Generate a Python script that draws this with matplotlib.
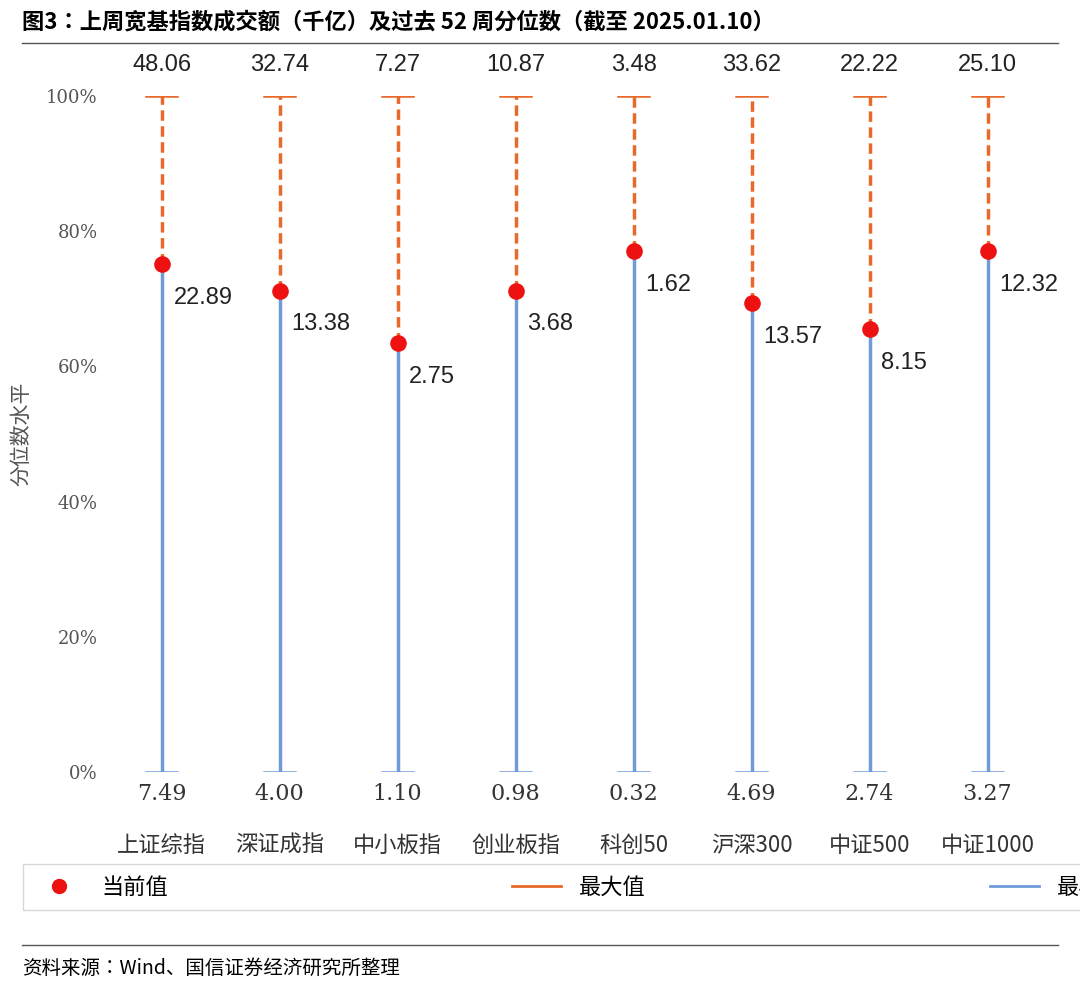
import matplotlib.pyplot as plt
from matplotlib import font_manager
from matplotlib.lines import Line2D

# pick whatever CJK family the font manager actually knows
cjk = [f.name for f in font_manager.fontManager.ttflist if 'CJK' in f.name]
cjk_name = 'Noto Sans CJK SC' if 'Noto Sans CJK SC' in cjk else (cjk[0] if cjk else 'DejaVu Sans')
plt.rcParams['font.family'] = 'sans-serif'
plt.rcParams['font.sans-serif'] = [cjk_name, 'DejaVu Sans']
plt.rcParams['axes.unicode_minus'] = False

names = ['上证综指', '深证成指', '中小板指', '创业板指', '科创50', '沪深300', '中证500', '中证1000']
pct_now = [75.1, 71.2, 63.5, 71.2, 77.1, 69.4, 65.5, 77.1]
val_now = ['22.89', '13.38', '2.75', '3.68', '1.62', '13.57', '8.15', '12.32']
val_max = ['48.06', '32.74', '7.27', '10.87', '3.48', '33.62', '22.22', '25.10']
val_min = ['7.49', '4.00', '1.10', '0.98', '0.32', '4.69', '2.74', '3.27']

blue = '#6f9bd8'
orange = '#e8692a'
red = '#ee1111'

fig = plt.figure(figsize=(10.8, 9.93), dpi=100)
ax = fig.add_axes([0.095, 1 - 772 / 993, 0.874, (772 - 96) / 993])
x = list(range(len(names)))
for i in x:
    ax.plot([i, i], [0, pct_now[i]], color=blue, lw=2.5, zorder=1)
    ax.plot([i, i], [pct_now[i], 100], color=orange, lw=2.5, ls=(0, (3, 1.6)), zorder=1)
    ax.plot([i - 0.13, i + 0.13], [100, 100], color=orange, lw=1.8)
    ax.plot([i - 0.13, i + 0.13], [0, 0], color=blue, lw=1.8)
    ax.text(i, 103, val_max[i], ha='center', va='bottom', fontsize=17, family='Liberation Sans', color='#222222')
    ax.text(i + 0.1, pct_now[i] - 5, val_now[i], ha='left', va='center', fontsize=17, family='Liberation Sans', color='#222222')
    ax.text(i, -3.3, val_min[i], ha='center', va='center', fontsize=16, family='DejaVu Serif', color='#333333')
    ax.text(i, -10.8, names[i], ha='center', va='center', fontsize=16, color='#333333')
ax.scatter(x, pct_now, s=120, color=red, zorder=3)
ax.set_xlim(-0.5, 7.5)
ax.set_ylim(0, 100)
ax.set_xticks([])
ax.set_yticks([0, 20, 40, 60, 80, 100])
ax.set_yticklabels(['%d%%' % v for v in [0, 20, 40, 60, 80, 100]], family='DejaVu Serif', fontsize=13, color='#555555')
ax.tick_params(length=0)
for s in ax.spines.values():
    s.set_visible(False)
ax.set_ylabel('分位数水平', fontsize=15, color='#555555', labelpad=10)

handles = [Line2D([], [], marker='o', ls='', color=red, markersize=10),
           Line2D([], [], color=orange, lw=2),
           Line2D([], [], color=blue, lw=2)]
fig.legend(handles, ['当前值', '最大值', '最小值'], ncol=3, loc='center',
           bbox_to_anchor=(0.536, 1 - 887 / 993), fontsize=16, frameon=True,
           edgecolor='#cccccc', fancybox=False, columnspacing=15.5, handlelength=2.2,
           borderpad=0.5, borderaxespad=0)

fig.text(0.02, 1 - 22 / 993, '图3：上周宽基指数成交额（千亿）及过去 52 周分位数（截至 2025.01.10）',
         fontsize=16, fontweight='bold', va='center')
fig.add_artist(Line2D([0.02, 0.98], [1 - 43 / 993] * 2, color='#555555', lw=1))
fig.add_artist(Line2D([0.02, 0.98], [1 - 945 / 993] * 2, color='#555555', lw=1))
fig.text(0.02, 1 - 968 / 993, '资料来源：Wind、国信证券经济研究所整理', fontsize=14, va='center')

fig.savefig('out.png')
